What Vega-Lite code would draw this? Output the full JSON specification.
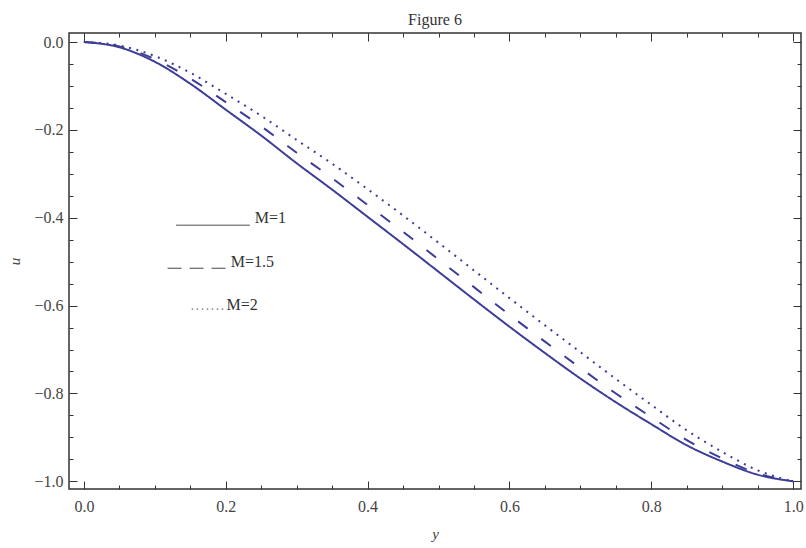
{
  "$schema": "https://vega.github.io/schema/vega-lite/v6.json",
  "width": 732,
  "height": 456,
  "autosize": "none",
  "padding": {"left": 69, "top": 33, "right": 5, "bottom": 59},
  "background": "white",
  "config": {"view": {"stroke": "#333333", "strokeWidth": 1.5}, "font": "Liberation Serif"},
  "title": {"text": "Figure 6", "fontSize": 16, "fontWeight": "normal", "font": "Liberation Serif", "color": "#333333", "offset": 5},
  "datasets": {
    "curves": [
      {"x": 0, "u": 0, "M": "1"},
      {"x": 0.05, "u": -0.012, "M": "1"},
      {"x": 0.1, "u": -0.045, "M": "1"},
      {"x": 0.15, "u": -0.095, "M": "1"},
      {"x": 0.2, "u": -0.154, "M": "1"},
      {"x": 0.25, "u": -0.213, "M": "1"},
      {"x": 0.3, "u": -0.276, "M": "1"},
      {"x": 0.35, "u": -0.336, "M": "1"},
      {"x": 0.4, "u": -0.398, "M": "1"},
      {"x": 0.45, "u": -0.46, "M": "1"},
      {"x": 0.5, "u": -0.523, "M": "1"},
      {"x": 0.55, "u": -0.586, "M": "1"},
      {"x": 0.6, "u": -0.648, "M": "1"},
      {"x": 0.65, "u": -0.708, "M": "1"},
      {"x": 0.7, "u": -0.766, "M": "1"},
      {"x": 0.75, "u": -0.82, "M": "1"},
      {"x": 0.8, "u": -0.87, "M": "1"},
      {"x": 0.85, "u": -0.918, "M": "1"},
      {"x": 0.9, "u": -0.955, "M": "1"},
      {"x": 0.95, "u": -0.985, "M": "1"},
      {"x": 1.0, "u": -1.0, "M": "1"},
      {"x": 0, "u": 0, "M": "1.5"},
      {"x": 0.05, "u": -0.01, "M": "1.5"},
      {"x": 0.1, "u": -0.039, "M": "1.5"},
      {"x": 0.15, "u": -0.083, "M": "1.5"},
      {"x": 0.2, "u": -0.137, "M": "1.5"},
      {"x": 0.25, "u": -0.192, "M": "1.5"},
      {"x": 0.3, "u": -0.252, "M": "1.5"},
      {"x": 0.35, "u": -0.31, "M": "1.5"},
      {"x": 0.4, "u": -0.371, "M": "1.5"},
      {"x": 0.45, "u": -0.432, "M": "1.5"},
      {"x": 0.5, "u": -0.495, "M": "1.5"},
      {"x": 0.55, "u": -0.558, "M": "1.5"},
      {"x": 0.6, "u": -0.621, "M": "1.5"},
      {"x": 0.65, "u": -0.682, "M": "1.5"},
      {"x": 0.7, "u": -0.742, "M": "1.5"},
      {"x": 0.75, "u": -0.8, "M": "1.5"},
      {"x": 0.8, "u": -0.854, "M": "1.5"},
      {"x": 0.85, "u": -0.906, "M": "1.5"},
      {"x": 0.9, "u": -0.948, "M": "1.5"},
      {"x": 0.95, "u": -0.982, "M": "1.5"},
      {"x": 1.0, "u": -1.0, "M": "1.5"},
      {"x": 0, "u": 0, "M": "2"},
      {"x": 0.05, "u": -0.008, "M": "2"},
      {"x": 0.1, "u": -0.032, "M": "2"},
      {"x": 0.15, "u": -0.07, "M": "2"},
      {"x": 0.2, "u": -0.118, "M": "2"},
      {"x": 0.25, "u": -0.168, "M": "2"},
      {"x": 0.3, "u": -0.223, "M": "2"},
      {"x": 0.35, "u": -0.277, "M": "2"},
      {"x": 0.4, "u": -0.335, "M": "2"},
      {"x": 0.45, "u": -0.395, "M": "2"},
      {"x": 0.5, "u": -0.457, "M": "2"},
      {"x": 0.55, "u": -0.52, "M": "2"},
      {"x": 0.6, "u": -0.583, "M": "2"},
      {"x": 0.65, "u": -0.645, "M": "2"},
      {"x": 0.7, "u": -0.706, "M": "2"},
      {"x": 0.75, "u": -0.767, "M": "2"},
      {"x": 0.8, "u": -0.826, "M": "2"},
      {"x": 0.85, "u": -0.884, "M": "2"},
      {"x": 0.9, "u": -0.933, "M": "2"},
      {"x": 0.95, "u": -0.975, "M": "2"},
      {"x": 1.0, "u": -1.0, "M": "2"}
    ],
    "legend": [
      {"M": "1", "x1": 0.13, "x2": 0.234, "yl": -0.417, "tx": 0.241, "ty": -0.401, "label": "M=1"},
      {"M": "1.5", "x1": 0.118, "x2": 0.2, "yl": -0.515, "tx": 0.207, "ty": -0.501, "label": "M=1.5"},
      {"M": "2", "x1": 0.152, "x2": 0.198, "yl": -0.608, "tx": 0.201, "ty": -0.599, "label": "M=2"}
    ]
  },
  "layer": [
    {
      "data": {"name": "curves"},
      "mark": {"type": "line", "interpolate": "monotone", "strokeWidth": 2, "color": "#3d3d99"},
      "encoding": {
        "x": {
          "field": "x", "type": "quantitative",
          "scale": {"domain": [-0.021, 1.011], "nice": false, "zero": false},
          "axis": {
            "orient": "bottom",
            "values": [0, 0.05, 0.1, 0.15, 0.2, 0.25, 0.3, 0.35, 0.4, 0.45, 0.5, 0.55, 0.6, 0.65, 0.7, 0.75, 0.8, 0.85, 0.9, 0.95, 1.0],
            "labelExpr": "abs(datum.value*5-round(datum.value*5))<0.001 ? format(datum.value,'.1f') : ''",
            "tickSize": {"expr": "abs(datum.value*5-round(datum.value*5))<0.001 ? -8 : -4"},
            "labelPadding": 17,
            "domain": false, "grid": false,
            "tickColor": "#333333", "tickWidth": 1,
            "labelFont": "Liberation Serif", "labelFontSize": 16, "labelColor": "#444444",
            "labelFlush": false, "labelOverlap": false,
            "title": "y", "titleFont": "Liberation Serif", "titleFontStyle": "italic", "titleFontWeight": "normal",
            "titleFontSize": 15, "titleColor": "#444444", "titlePadding": 8
          }
        },
        "y": {
          "field": "u", "type": "quantitative",
          "scale": {"domain": [-1.0175, 0.0205], "nice": false, "zero": false},
          "axis": {
            "orient": "left",
            "values": [-1.0, -0.95, -0.9, -0.85, -0.8, -0.75, -0.7, -0.65, -0.6, -0.55, -0.5, -0.45, -0.4, -0.35, -0.3, -0.25, -0.2, -0.15, -0.1, -0.05, 0],
            "labelExpr": "abs(datum.value*5-round(datum.value*5))<0.001 ? format(datum.value,'.1f') : ''",
            "tickSize": {"expr": "abs(datum.value*5-round(datum.value*5))<0.001 ? -8 : -4"},
            "labelPadding": 14,
            "domain": false, "grid": false,
            "tickColor": "#333333", "tickWidth": 1,
            "labelFont": "Liberation Serif", "labelFontSize": 16, "labelColor": "#444444",
            "labelFlush": false, "labelOverlap": false,
            "title": "u", "titleFont": "Liberation Serif", "titleFontStyle": "italic", "titleFontWeight": "normal",
            "titleFontSize": 15, "titleColor": "#444444", "titlePadding": 11
          }
        },
        "strokeDash": {
          "field": "M", "type": "nominal",
          "scale": {"domain": ["1", "1.5", "2"], "range": [[1, 0], [12, 17], [2, 5.6]]},
          "legend": null
        }
      }
    },
    {
      "data": {"name": "legend"},
      "mark": {"type": "rule", "strokeWidth": 1, "color": "#444444"},
      "encoding": {
        "x": {"field": "x1", "type": "quantitative", "scale": {"domain": [-0.021, 1.011], "nice": false, "zero": false}, "axis": null},
        "x2": {"field": "x2"},
        "y": {"field": "yl", "type": "quantitative", "scale": {"domain": [-1.0175, 0.0205], "nice": false, "zero": false}, "axis": null},
        "strokeDash": {
          "field": "M", "type": "nominal",
          "scale": {"domain": ["1", "1.5", "2"], "range": [[1, 0], [14, 8], [1.5, 3.5]]},
          "legend": null
        }
      }
    },
    {
      "data": {"name": "legend"},
      "mark": {"type": "text", "align": "left", "baseline": "middle", "fontSize": 16, "font": "Liberation Serif", "color": "#333333"},
      "encoding": {
        "x": {"field": "tx", "type": "quantitative", "scale": {"domain": [-0.021, 1.011], "nice": false, "zero": false}, "axis": null},
        "y": {"field": "ty", "type": "quantitative", "scale": {"domain": [-1.0175, 0.0205], "nice": false, "zero": false}, "axis": null},
        "text": {"field": "label", "type": "nominal"}
      }
    },
    {
      "data": {"name": "curves"},
      "mark": {"type": "point", "opacity": 0},
      "encoding": {
        "x": {
          "field": "x", "type": "quantitative",
          "scale": {"domain": [-0.021, 1.011], "nice": false, "zero": false},
          "axis": {
            "orient": "top",
            "values": [0, 0.05, 0.1, 0.15, 0.2, 0.25, 0.3, 0.35, 0.4, 0.45, 0.5, 0.55, 0.6, 0.65, 0.7, 0.75, 0.8, 0.85, 0.9, 0.95, 1.0],
            "labels": false,
            "tickSize": {"expr": "abs(datum.value*5-round(datum.value*5))<0.001 ? -8 : -4"},
            "domain": false, "grid": false, "title": null,
            "tickColor": "#333333", "tickWidth": 1
          }
        },
        "y": {
          "field": "u", "type": "quantitative",
          "scale": {"domain": [-1.0175, 0.0205], "nice": false, "zero": false},
          "axis": {
            "orient": "right",
            "values": [-1.0, -0.95, -0.9, -0.85, -0.8, -0.75, -0.7, -0.65, -0.6, -0.55, -0.5, -0.45, -0.4, -0.35, -0.3, -0.25, -0.2, -0.15, -0.1, -0.05, 0],
            "labels": false,
            "tickSize": {"expr": "abs(datum.value*5-round(datum.value*5))<0.001 ? -8 : -4"},
            "domain": false, "grid": false, "title": null,
            "tickColor": "#333333", "tickWidth": 1
          }
        }
      }
    }
  ],
  "resolve": {"scale": {"x": "independent", "y": "independent", "strokeDash": "independent"}}
}
